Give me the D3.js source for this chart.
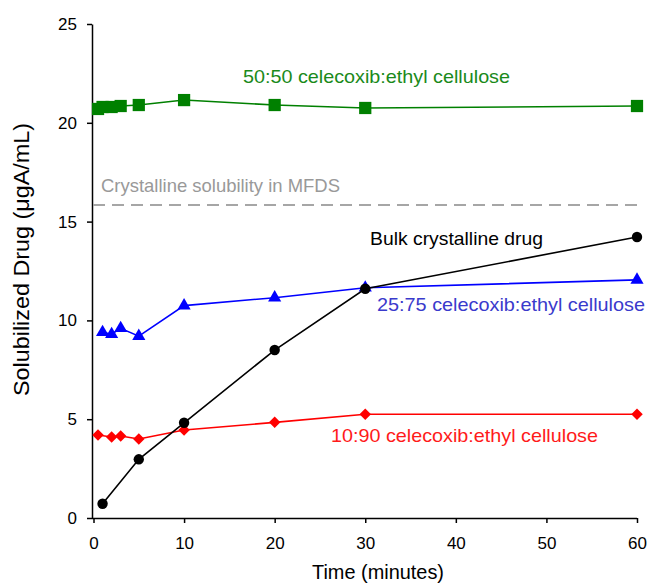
<!DOCTYPE html>
<html><head><meta charset="utf-8">
<script src="https://cdn.jsdelivr.net/npm/d3@7"></script>
<style>body{margin:0;background:#fff}svg text{font-family:"Liberation Sans",Arial,sans-serif}</style>
</head><body><svg id="c" width="651" height="583"></svg>
<script>
const greenT = [0.5, 1, 2, 3, 5, 10, 20, 30, 60];
const greenV = [20.7, 20.8, 20.8, 20.85, 20.9, 21.15, 20.9, 20.75, 20.85];
const blueT = [1, 2, 3, 5, 10, 20, 30, 60];
const blueV = [9.4, 9.3, 9.6, 9.2, 10.75, 11.15, 11.65, 12.05];
const redT = [0.5, 2, 3, 5, 10, 20, 30, 60];
const redV = [4.2, 4.1, 4.15, 4.0, 4.45, 4.84, 5.25, 5.25];
const blackT = [1, 5, 10, 20, 30, 60];
const blackV = [0.72, 2.97, 4.82, 8.5, 11.6, 14.22];
const crystSol = 15.84;
const xTicks = [0, 10, 20, 30, 40, 50, 60];
const yTicks = [0, 5, 10, 15, 20, 25];

const svg = d3.select("#c");
const x = d3.scaleLinear().domain([0, 60]).range([93.5, 637]);
const y = d3.scaleLinear().domain([0, 25]).range([518, 24]);

// axes
const xa = svg.append("g").attr("transform", "translate(0,518)")
  .call(d3.axisBottom(x).tickValues(xTicks).tickSize(5).tickPadding(14).tickSizeOuter(0));
xa.select(".domain").attr("d", "M92,0.5H637").attr("stroke", "#000").attr("stroke-width", 1.5);
const ya = svg.append("g").attr("transform", "translate(92,0)")
  .call(d3.axisLeft(y).tickValues(yTicks).tickSize(5).tickPadding(10).tickSizeOuter(0));
ya.select(".domain").attr("stroke", "#000").attr("stroke-width", 1.5);
svg.selectAll(".tick line").attr("stroke", "#000").attr("stroke-width", 1.5);
svg.selectAll(".tick text").attr("font-size", 17).attr("fill", "#000")
  .style("font-family", '"Liberation Sans",Arial,sans-serif');

// dashed line
svg.append("line").attr("x1", 93).attr("x2", 637).attr("y1", y(crystSol)).attr("y2", y(crystSol))
  .attr("stroke", "#a6a6a6").attr("stroke-width", 1.8).attr("stroke-dasharray", "12,7");

function series(T, V, color, sym, size, rot) {
  const pts = T.map((t, i) => [x(t), y(V[i])]);
  svg.append("path").attr("d", d3.line()(pts)).attr("fill", "none")
    .attr("stroke", color).attr("stroke-width", 1.6);
  svg.append("g").selectAll("path").data(pts).join("path")
    .attr("transform", d => `translate(${d[0]},${d[1]}) rotate(${rot || 0})`)
    .attr("d", d3.symbol().type(sym).size(size)).attr("fill", color);
}
series(greenT, greenV, "#008000", d3.symbolSquare, 150);
series(redT, redV, "#ff0000", d3.symbolSquare, 66, 45);
series(blueT, blueV, "#0000ff", d3.symbolTriangle, 75);
series(blackT, blackV, "#000000", d3.symbolCircle, 85);

const labs = [
  {t: "50:50 celecoxib:ethyl cellulose", x: 243, y: 83, w: 267, c: "#1a8a1a"},
  {t: "Crystalline solubility in MFDS", x: 101, y: 192, w: 239, c: "#999999"},
  {t: "Bulk crystalline drug", x: 370, y: 245, w: 173, c: "#000000"},
  {t: "25:75 celecoxib:ethyl cellulose", x: 377, y: 311, w: 268, c: "#3a3acc"},
  {t: "10:90 celecoxib:ethyl cellulose", x: 331, y: 442, w: 267, c: "#ff1a1a"}
];
svg.append("g").selectAll("text").data(labs).join("text")
  .attr("x", d => d.x).attr("y", d => d.y).attr("fill", d => d.c)
  .attr("font-size", 18.5).attr("textLength", d => d.w).attr("lengthAdjust", "spacingAndGlyphs")
  .text(d => d.t);

svg.append("text").attr("x", 378).attr("y", 579).attr("text-anchor", "middle")
  .attr("font-size", 20).attr("textLength", 132).attr("lengthAdjust", "spacingAndGlyphs")
  .text("Time (minutes)");
svg.append("text").attr("transform", "translate(29,259.5) rotate(-90)").attr("text-anchor", "middle")
  .attr("font-size", 22).attr("textLength", 273).attr("lengthAdjust", "spacingAndGlyphs")
  .text("Solubilized Drug (μgA/mL)");
</script></body></html>
